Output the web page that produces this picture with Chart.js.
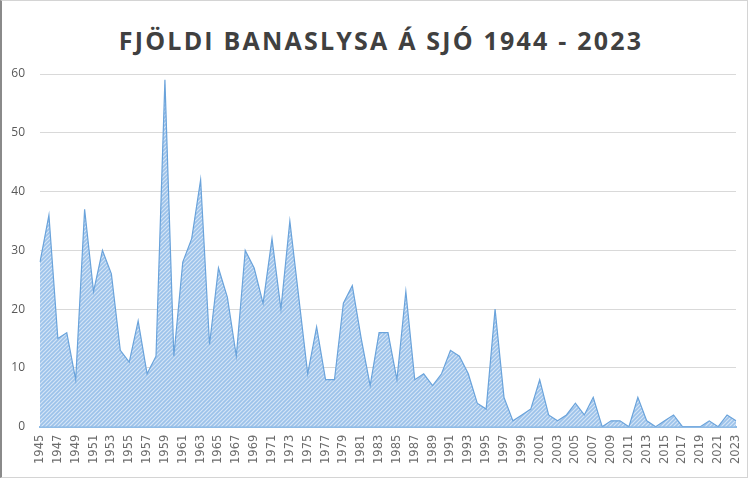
<!DOCTYPE html>
<html>
<head>
<meta charset="utf-8">
<script src="https://cdn.jsdelivr.net/npm/chart.js@4.4.1/dist/chart.umd.min.js"></script>
<style>
  html, body { margin: 0; padding: 0; background: #fff; }
  #wrap { position: relative; width: 748px; height: 478px; overflow: hidden; }
  #frame { position: absolute; left: 0; top: 0; width: 748px; height: 478px; box-sizing: border-box;
           border: 1px solid #d4d4d4; border-left: 2px solid #8a8a8a; pointer-events: none; }
  #title { position: absolute; top: 23px; left: 7px; width: 748px; text-align: center;
           font: bold 25px "Open Sans", sans-serif; letter-spacing: 2.2px; color: #404040; }
  canvas { position: absolute; left: 0; top: 0; }
</style>
</head>
<body>
<div id="wrap">
  <div id="title">FJÖLDI BANASLYSA Á SJÓ 1944 - 2023</div>
  <canvas id="chart" width="748" height="478"></canvas>
  <div id="frame"></div>
</div>
<script>
// --- Data ---
const years = [
  '1945','1946','1947','1948','1949','1950','1951','1952','1953','1954',
  '1955','1956','1957','1958','1959','1960','1961','1962','1963','1964',
  '1965','1966','1967','1968','1969','1970','1971','1972','1973','1974',
  '1975','1976','1977','1978','1979','1980','1981','1982','1983','1984',
  '1985','1986','1987','1988','1989','1990','1991','1992','1993','1994',
  '1995','1996','1997','1998','1999','2000','2001','2002','2003','2004',
  '2005','2006','2007','2008','2009','2010','2011','2012','2013','2014',
  '2015','2016','2017','2018','2019','2020','2021','2022','2023'
];
const deaths = [
  28, 36, 15, 16, 8, 37, 23, 30, 26, 13,
  11, 18, 9, 12, 59, 12, 28, 32, 42, 14,
  27, 22, 12, 30, 27, 21, 32, 20, 35, 22,
  9, 17, 8, 8, 21, 24, 15, 7, 16, 16,
  8, 23, 8, 9, 7, 9, 13, 12, 9, 4,
  3, 20, 5, 1, 2, 3, 8, 2, 1, 2,
  4, 2, 5, 0, 1, 1, 0, 5, 1, 0,
  1, 2, 0, 0, 0, 1, 0, 2, 1
];
const yMin = 0;
const yMax = 60;
const yStep = 10;

// --- Hatched fill like the Excel pattern ---
function makeHatch() {
  const c = document.createElement('canvas');
  c.width = 4; c.height = 4;
  const g = c.getContext('2d');
  g.fillStyle = '#9cc2ea';
  g.fillRect(0, 0, 4, 4);
  g.strokeStyle = '#d4e5f6';
  g.lineWidth = 1.2;
  g.beginPath();
  g.moveTo(-1, 5); g.lineTo(5, -1);
  g.moveTo(-1, 1); g.lineTo(1, -1);
  g.moveTo(3, 5); g.lineTo(5, 3);
  g.stroke();
  return g.createPattern(c, 'repeat');
}
const ctx = document.getElementById('chart').getContext('2d');

new Chart(ctx, {
  type: 'line',
  data: {
    labels: years,
    datasets: [{
      data: deaths,
      fill: 'origin',
      backgroundColor: makeHatch(),
      borderColor: '#6aa3db',
      borderWidth: 1.2,
      pointRadius: 0,
      tension: 0
    }]
  },
  options: {
    responsive: false,
    animation: false,
    layout: { padding: { top: 74, left: 11, right: 12, bottom: 6 } },
    plugins: { legend: { display: false }, title: { display: false }, tooltip: { enabled: false } },
    scales: {
      x: {
        offset: false,
        grid: { display: false, drawTicks: false },
        border: { color: '#8fbbe6', width: 2 },
        afterFit: s => { s.paddingLeft = 0; s.paddingRight = 0; },
        ticks: {
          autoSkip: false,
          maxRotation: 90,
          minRotation: 90,
          padding: 8,
          color: '#6b6b6b',
          font: { family: 'DejaVu Sans', size: 11.5 },
          callback: (v, i) => (i % 2 === 0 ? years[i] : '')
        }
      },
      y: {
        min: yMin,
        max: yMax,
        grid: { color: '#d9d9d9', drawTicks: false },
        border: { display: false },
        afterFit: s => { s.width = 29; },
        ticks: {
          stepSize: yStep,
          padding: 15,
          color: '#595959',
          font: { family: 'Open Sans', size: 12 }
        }
      }
    }
  }
});
</script>
</body>
</html>
